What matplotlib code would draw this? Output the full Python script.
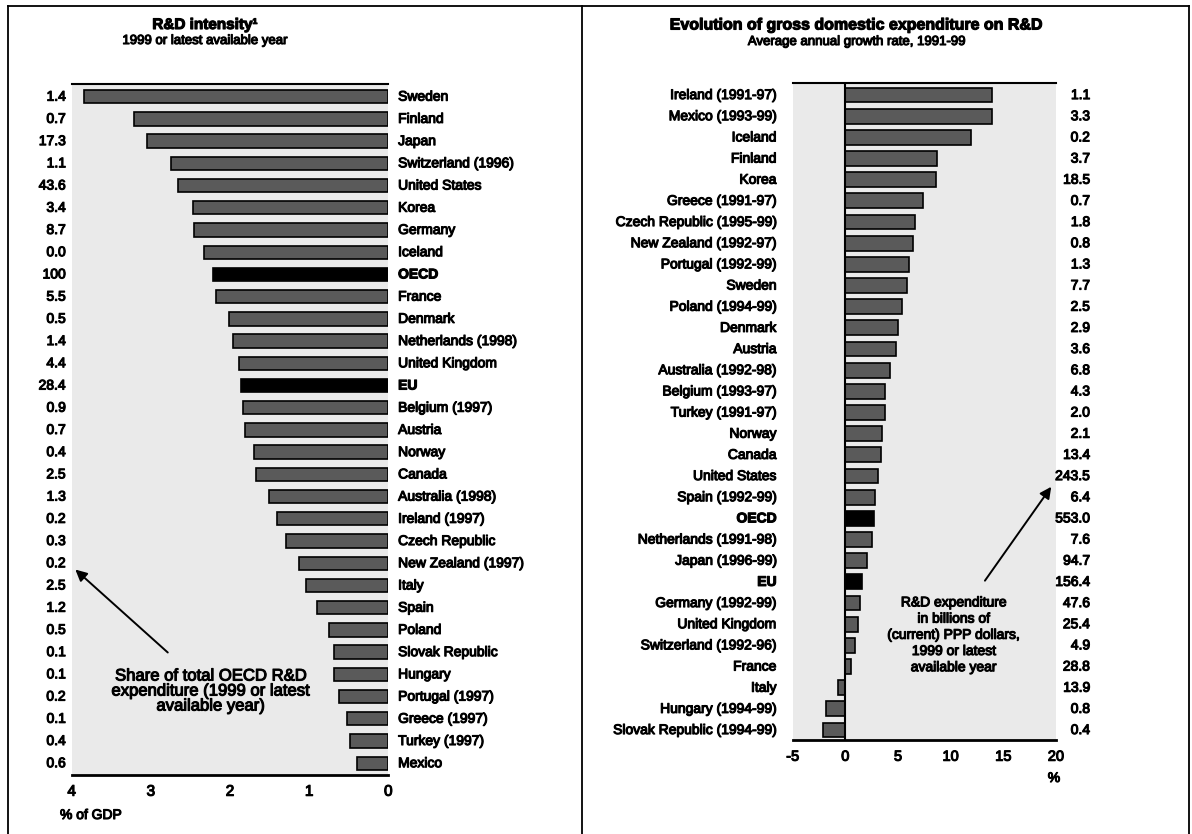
import numpy as np
import matplotlib
matplotlib.use("Agg")
import matplotlib.pyplot as plt
import matplotlib.patheffects as pe
from matplotlib.lines import Line2D

# Left panel: R&D intensity (% of GDP) and share of total OECD R&D
left_countries = ["Sweden", "Finland", "Japan", "Switzerland (1996)", "United States",
                  "Korea", "Germany", "Iceland", "OECD", "France", "Denmark",
                  "Netherlands (1998)", "United Kingdom", "EU", "Belgium (1997)", "Austria",
                  "Norway", "Canada", "Australia (1998)", "Ireland (1997)", "Czech Republic",
                  "New Zealand (1997)", "Italy", "Spain", "Poland", "Slovak Republic",
                  "Hungary", "Portugal (1997)", "Greece (1997)", "Turkey (1997)", "Mexico"]
intensity = [3.84, 3.21, 3.05, 2.74, 2.66, 2.47, 2.45, 2.33, 2.22, 2.18, 2.01,
             1.96, 1.88, 1.86, 1.84, 1.81, 1.70, 1.67, 1.51, 1.40, 1.29,
             1.13, 1.04, 0.90, 0.75, 0.69, 0.69, 0.62, 0.52, 0.49, 0.39]
share = ["1.4", "0.7", "17.3", "1.1", "43.6", "3.4", "8.7", "0.0", "100", "5.5", "0.5",
         "1.4", "4.4", "28.4", "0.9", "0.7", "0.4", "2.5", "1.3", "0.2", "0.3",
         "0.2", "2.5", "1.2", "0.5", "0.1", "0.1", "0.2", "0.1", "0.4", "0.6"]

# Right panel: growth of GERD, 1991-99 and R&D expenditure (bn PPP $)
right_countries = ["Ireland (1991-97)", "Mexico (1993-99)", "Iceland", "Finland", "Korea",
                   "Greece (1991-97)", "Czech Republic (1995-99)", "New Zealand (1992-97)",
                   "Portugal (1992-99)", "Sweden", "Poland (1994-99)", "Denmark", "Austria",
                   "Australia (1992-98)", "Belgium (1993-97)", "Turkey (1991-97)", "Norway",
                   "Canada", "United States", "Spain (1992-99)", "OECD", "Netherlands (1991-98)",
                   "Japan (1996-99)", "EU", "Germany (1992-99)", "United Kingdom",
                   "Switzerland (1992-96)", "France", "Italy", "Hungary (1994-99)",
                   "Slovak Republic (1994-99)"]
growth = [13.9, 13.9, 11.9, 8.7, 8.6, 7.4, 6.6, 6.4, 6.0, 5.9, 5.4, 5.0, 4.8,
          4.2, 3.8, 3.8, 3.5, 3.4, 3.1, 2.8, 2.7, 2.5, 2.05, 1.55, 1.35, 1.2,
          0.9, 0.5, -0.7, -1.8, -2.1]
expenditure = ["1.1", "3.3", "0.2", "3.7", "18.5", "0.7", "1.8", "0.8", "1.3", "7.7", "2.5",
               "2.9", "3.6", "6.8", "4.3", "2.0", "2.1", "13.4", "243.5", "6.4", "553.0",
               "7.6", "94.7", "156.4", "47.6", "25.4", "4.9", "28.8", "13.9", "0.8", "0.4"]

plt.rcParams['font.family'] = ['Liberation Sans', 'DejaVu Sans']
heavy = [pe.withStroke(linewidth=0.8, foreground='black')]

W, H = 1192, 834
fig = plt.figure(figsize=(W / 100, H / 100), dpi=100)


def box(x0, x1, ytop, ybot):
    # pixel rectangle -> figure fraction rect
    return [x0 / W, 1 - ybot / H, (x1 - x0) / W, (ybot - ytop) / H]


# panel frames
for xs, ys in [([8, 1189], [6, 6]), ([8, 8], [6, 834]), ([582, 582], [6, 834]),
               ([1189, 1189], [6, 834])]:
    fig.add_artist(Line2D([x / W for x in xs], [1 - y / H for y in ys],
                          transform=fig.transFigure, color='black', lw=1.3))

bar_grey = '#5a5a5a'
bg = '#eaeaea'

# ---------------- left panel ----------------
ax1 = fig.add_axes(box(71.7, 388.3, 84, 775))
n1 = len(left_countries)
y1 = np.arange(n1)
c1 = ['black' if c in ('OECD', 'EU') else bar_grey for c in left_countries]
ax1.barh(y1, intensity, height=0.6, color=c1, edgecolor='black', lw=1.2)
ax1.set_xlim(4, 0)
ax1.set_ylim(n1 - 1 + 0.53, -0.57)
ax1.set_facecolor(bg)
ax1.set_yticks([])
for s in ['left', 'right']:
    ax1.spines[s].set_visible(False)
ax1.spines['bottom'].set_linewidth(2)
ax1.spines['top'].set_linewidth(1.5)
ax1.set_xticks([4, 3, 2, 1, 0])
ax1.set_xticklabels(['4', '3', '2', '1', '0'], fontsize=11, path_effects=heavy)
ax1.tick_params(axis='x', length=0, pad=7)
ax1.set_xticks([3, 2, 1], minor=True)
ax1.tick_params(axis='x', which='minor', direction='in', length=6, width=1.3)

tr1 = ax1.get_yaxis_transform()
for i in range(n1):
    bold = left_countries[i] in ('OECD', 'EU')
    ax1.text(-0.019, i, share[i], transform=tr1, ha='right', va='center',
             fontsize=10, path_effects=heavy)
    ax1.text(1.031, i, left_countries[i], transform=tr1, ha='left', va='center',
             fontsize=10, fontweight='bold' if bold else 'normal', path_effects=heavy)

ax1.annotate('', xy=(3.98, 21.2), xytext=(2.76, 25.1),
             arrowprops=dict(arrowstyle='-|>', color='black', lw=1.4, mutation_scale=17),
             annotation_clip=False)
ax1.text(2.24, 26.75, 'Share of total OECD R&D\nexpenditure (1999 or latest\navailable year)',
         ha='center', va='center', fontsize=12, linespacing=1.0, path_effects=heavy)

fig.text(205 / W, 1 - 25 / H, 'R&D intensity\u00b9', ha='center', va='center',
         fontsize=11, fontweight='bold', path_effects=heavy)
fig.text(205 / W, 1 - 41 / H, '1999 or latest available year', ha='center', va='center',
         fontsize=9.5, path_effects=heavy)
fig.text(60 / W, 1 - 815 / H, '% of GDP', ha='left', va='center', fontsize=10,
         path_effects=heavy)

# ---------------- right panel ----------------
ax2 = fig.add_axes(box(792.7, 1056, 83, 740))
n2 = len(right_countries)
y2 = np.arange(n2)
c2 = ['black' if c in ('OECD', 'EU') else bar_grey for c in right_countries]
ax2.barh(y2, growth, height=0.7, color=c2, edgecolor='black', lw=1.2)
ax2.axvline(0, color='black', lw=1.5)
ax2.set_xlim(-5, 20)
ax2.set_ylim(n2 - 1 + 0.47, -0.57)
ax2.set_facecolor(bg)
ax2.set_yticks([])
for s in ['left', 'right']:
    ax2.spines[s].set_visible(False)
ax2.spines['bottom'].set_linewidth(2)
ax2.spines['top'].set_linewidth(1.5)
ax2.set_xticks([-5, 0, 5, 10, 15, 20])
ax2.set_xticklabels(['-5', '0', '5', '10', '15', '20'], fontsize=10.5, path_effects=heavy)
ax2.tick_params(axis='x', length=0, pad=7)
ax2.set_xticks([5, 10, 15], minor=True)
ax2.tick_params(axis='x', which='minor', direction='in', length=6, width=1.3)

tr2 = ax2.get_yaxis_transform()
for i in range(n2):
    bold = right_countries[i] in ('OECD', 'EU')
    ax2.text(-0.061, i, right_countries[i], transform=tr2, ha='right', va='center',
             fontsize=10, fontweight='bold' if bold else 'normal', path_effects=heavy)
    ax2.text(1.129, i, expenditure[i], transform=tr2, ha='right', va='center',
             fontsize=10, path_effects=heavy)

ax2.annotate('', xy=(19.7, 18.4), xytext=(13.1, 23.05),
             arrowprops=dict(arrowstyle='-|>', color='black', lw=1.4, mutation_scale=17),
             annotation_clip=False)
ax2.text(10.3, 25.5, 'R&D expenditure\nin billions of\n(current) PPP dollars,\n1999 or latest\navailable year',
         ha='center', va='center', fontsize=10, linespacing=1.2, path_effects=heavy)

fig.text(857 / W, 1 - 25 / H, 'Evolution of gross domestic expenditure on R&D', ha='center',
         va='center', fontsize=11.5, fontweight='bold', path_effects=heavy)
fig.text(857 / W, 1 - 42 / H, 'Average annual growth rate, 1991-99', ha='center', va='center',
         fontsize=9.5, path_effects=heavy)
fig.text(1054 / W, 1 - 778 / H, '%', ha='center', va='center', fontsize=10,
         path_effects=heavy)

fig.savefig('out.png', dpi=100, facecolor='white')
